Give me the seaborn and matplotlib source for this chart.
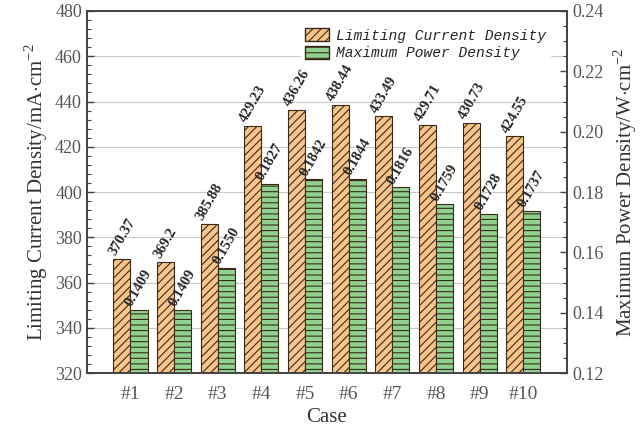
import numpy as np
import pandas as pd
import matplotlib
matplotlib.use('Agg')
import matplotlib.pyplot as plt
import seaborn as sns
from matplotlib.ticker import MultipleLocator
from matplotlib.patches import Patch

# %% data
cases = ['#1', '#2', '#3', '#4', '#5', '#6', '#7', '#8', '#9', '#10']
lcd = [370.37, 369.2, 385.88, 429.23, 436.26, 438.44, 433.49, 429.71, 430.73, 424.55]
mpd = [0.1409, 0.1409, 0.1550, 0.1827, 0.1842, 0.1844, 0.1816, 0.1759, 0.1728, 0.1737]
lcd_lab = ['370.37', '369.2', '385.88', '429.23', '436.26', '438.44', '433.49', '429.71', '430.73', '424.55']
mpd_lab = ['0.1409', '0.1409', '0.1550', '0.1827', '0.1842', '0.1844', '0.1816', '0.1759', '0.1728', '0.1737']
series = ['Limiting Current Density', 'Maximum Power Density']

# %% frames, one per axis, the other series kept as NaN so dodge stays
df1 = pd.DataFrame({'Case': cases * 2, 'Series': [series[0]] * 10 + [series[1]] * 10,
                    'Value': lcd + [np.nan] * 10})
df2 = pd.DataFrame({'Case': cases * 2, 'Series': [series[0]] * 10 + [series[1]] * 10,
                    'Value': [np.nan] * 10 + mpd})

sns.set_style('white')
plt.rcParams['font.family'] = ['Liberation Serif', 'DejaVu Serif']
plt.rcParams['hatch.linewidth'] = 0.8
plt.rcParams['mathtext.fontset'] = 'custom'
plt.rcParams['mathtext.rm'] = 'Liberation Serif'

orange = '#F9C48A'
green = '#8ED28E'
edge = '#3a2a1a'

fig = plt.figure(figsize=(6.43, 4.40), dpi=100)
ax1 = fig.add_axes([0.135, 0.152, 0.747, 0.823])
ax2 = ax1.twinx()

sns.barplot(data=df1, x='Case', y='Value', hue='Series', hue_order=series,
            palette=[orange, green], saturation=1, width=0.78, ax=ax1, legend=False,
            edgecolor=edge, linewidth=0.8)
sns.barplot(data=df2, x='Case', y='Value', hue='Series', hue_order=series,
            palette=[orange, green], saturation=1, width=0.78, ax=ax2, legend=False,
            edgecolor=edge, linewidth=0.8)

for p in ax1.patches:
    p.set_hatch('////')
for p in ax2.patches:
    p.set_hatch('---')

ax1.set_ylim(320, 480)
ax2.set_ylim(0.12, 0.24)
ax1.set_xlim(-1, 10)

# value labels
for c in ax1.containers:
    for bar, lab in zip(c, lcd_lab):
        if np.isnan(bar.get_height()):
            continue
        ax1.text(bar.get_x() + bar.get_width() / 2, bar.get_height() + 0.5, lab,
                 rotation=60, ha='center', va='bottom', fontsize=10.5, fontweight='bold')
for c in ax2.containers:
    for bar, lab in zip(c, mpd_lab):
        if np.isnan(bar.get_height()):
            continue
        ax2.text(bar.get_x() + bar.get_width() / 2, bar.get_height() + 0.0004, lab,
                 rotation=60, ha='center', va='bottom', fontsize=10.5, fontweight='bold')

# axes styling
gray = '#555555'
ax1.yaxis.set_major_locator(MultipleLocator(20))
ax1.yaxis.set_minor_locator(MultipleLocator(4))
ax2.yaxis.set_major_locator(MultipleLocator(0.02))
ax2.yaxis.set_minor_locator(MultipleLocator(0.005))
ax2.set_yticks(ax2.get_yticks())
ax2.set_yticklabels([f'{v:.2f}' for v in ax2.get_yticks()])
ax2.set_ylim(0.12, 0.24)
ax1.grid(axis='y', color='#c8c8c8', linewidth=0.8)
ax1.set_axisbelow(True)
for ax in (ax1, ax2):
    for s in ax.spines.values():
        s.set_color('#444444')
        s.set_linewidth(1.3)
    ax.tick_params(axis='y', which='major', direction='in', length=5, width=1, colors='#444444',
                   labelcolor=gray, labelsize=13)
    ax.tick_params(axis='y', which='minor', direction='in', length=3, width=0.8, colors='#444444')
ax1.tick_params(axis='x', length=0, labelsize=14, labelcolor=gray, pad=9)
ax2.tick_params(axis='y', which='both', left=False, right=True)
ax1.tick_params(axis='y', which='both', left=True, right=False)

ax1.set_xlabel('Case', fontsize=15, color='#333333', labelpad=4)
ax1.set_ylabel('Limiting Current Density/mA$\\cdot$cm$^{-2}$', fontsize=15, color='#333333')
ax2.set_ylabel('Maximum Power Density/W$\\cdot$cm$^{-2}$', fontsize=15, color='#333333', labelpad=6)

# legend
handles = [Patch(facecolor=orange, edgecolor=edge, hatch='////', label=series[0]),
           Patch(facecolor=green, edgecolor=edge, hatch='---', label=series[1])]
leg = ax2.legend(handles=handles, loc='upper right', bbox_to_anchor=(0.98, 0.985),
                 frameon=True, framealpha=1, edgecolor='white', fancybox=False,
                 prop={'family': 'Liberation Mono', 'style': 'italic', 'size': 10.5},
                 handlelength=1.6, handleheight=1.0, handletextpad=0.5,
                 borderpad=0.3, labelspacing=0.2)

fig.savefig('out.png', dpi=100)
